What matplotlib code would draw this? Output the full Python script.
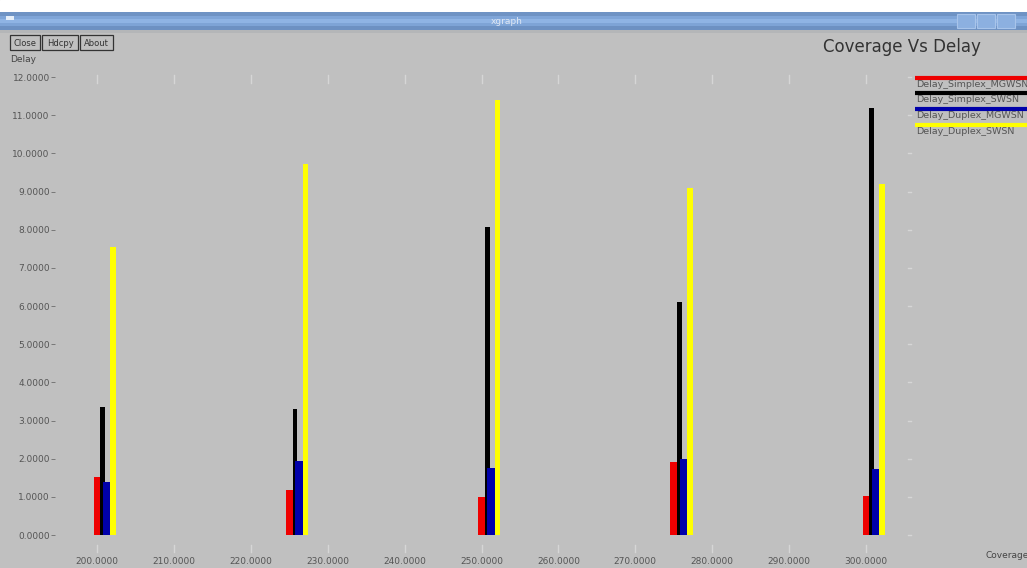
import matplotlib.pyplot as plt
from matplotlib.patches import Rectangle
import numpy as np

# data
coverage = [200, 225, 250, 275, 300]
series = ['Delay_Simplex_MGWSN', 'Delay_Simplex_SWSN', 'Delay_Duplex_MGWSN', 'Delay_Duplex_SWSN']
simplex_mgws = [1.52, 1.18, 1.00, 1.91, 1.02]
simplex_swsn = [3.35, 3.30, 8.06, 6.10, 11.20]
duplex_mgws = [1.39, 1.94, 1.75, 1.99, 1.73]
duplex_swsn = [7.54, 9.71, 11.41, 9.08, 9.19]

values = [simplex_mgws, simplex_swsn, duplex_mgws, duplex_swsn]
colors = ['#ee0000', '#000000', '#0000aa', '#ffff00']
offsets = [0.0, 0.75, 1.25, 2.1]
widths = [0.85, 0.6, 1.0, 0.7]

W, H = 1027, 568
bg = '#c0c0c0'
fig = plt.figure(figsize=(W / 100, H / 100), dpi=100, facecolor=bg)

# plot area in pixels
left, right, top, bottom = 88, 913, 77, 550
ax = fig.add_axes([left / W, 1 - bottom / H, (right - left) / W, (bottom - top) / H])
ax.set_facecolor(bg)
px_per_x = 7.69
ax.set_xlim(200 - 9 / px_per_x, 200 + (right - 97) / px_per_x)
px_per_y = 38.17
ax.set_ylim(-(bottom - 535) / px_per_y, 12 + (top - 77) / px_per_y)

for vals, c, off, w in zip(values, colors, offsets, widths):
    ax.bar(np.array(coverage) + off, vals, width=w, color=c, align='center')

for s in ax.spines.values():
    s.set_visible(False)
ax.spines['left'].set_position(('outward', 24))

yt = np.arange(0, 13)
ax.set_yticks(yt)
ax.set_yticklabels(['%.4f' % v for v in yt], fontsize=6.5, color='#555555')
xt = np.arange(200, 301, 10)
ax.set_xticks(xt)
ax.set_xticklabels(['%.4f' % v for v in xt], fontsize=6.5, color='#555555')
ax.tick_params(axis='y', length=3, width=0.7, color='#777777', pad=0.5)
ax.tick_params(axis='x', length=0, pad=5)

# faint xgraph grid marks
for x in xt:
    ax.plot([x, x], [11.85, 12.05], color='#d6d6d6', lw=1.0, clip_on=False)
    ax.plot([x, x], [-0.45, -0.25], color='#d6d6d6', lw=1.0, clip_on=False)
xr = 200 + (right - 97) / px_per_x - 0.3
for y in yt:
    ax.plot([xr - 0.4, xr], [y, y], color='#d6d6d6', lw=1.0, clip_on=False)

# overlay for window decorations, in pixel coords
ov = fig.add_axes([0, 0, 1, 1], facecolor='none')
ov.set_xlim(0, W)
ov.set_ylim(H, 0)
ov.axis('off')

ov.add_patch(Rectangle((0, 0), W, 12, color='white'))
bar_cols = ['#6f93c4', '#7fa5d8', '#8fb4e4', '#7ea4d6', '#6d91c2']
for i, c in enumerate(bar_cols):
    ov.add_patch(Rectangle((0, 12 + i * 3.6), W, 3.7, color=c, lw=0))
ov.add_patch(Rectangle((0, 30), W, 3, color='#b4b6b8', lw=0))
ov.text(507, 21, 'xgraph', ha='center', va='center', fontsize=6.5, color='#dfe7f4')
ov.add_patch(Rectangle((6, 16), 8, 4, color='#e6eef8', lw=0))
for bx in [957, 977, 997]:
    ov.add_patch(Rectangle((bx, 14), 18, 14, facecolor='#8cb0e0', edgecolor='#a8c4ea', lw=0.8))

for x0, w, lab in [(10, 30, 'Close'), (42, 36, 'Hdcpy'), (80, 33, 'About')]:
    ov.add_patch(Rectangle((x0, 35), w, 15, facecolor='none', edgecolor='#333333', lw=0.9))
    ov.text(x0 + w / 2, 43, lab, ha='center', va='center', fontsize=6, color='#333333')

ov.text(10, 59, 'Delay', ha='left', va='center', fontsize=6.5, color='#444444')
ov.text(823, 47, 'Coverage Vs Delay', ha='left', va='center', fontsize=12, color='#333333')
ov.text(985, 555, 'Coverage', ha='left', va='center', fontsize=6.5, color='#444444')

# legend
line_y = [78, 93, 109, 125]
for ly, c, lab in zip(line_y, colors, series):
    ov.plot([915, W], [ly, ly], color=c, lw=3, solid_capstyle='butt')
    ov.text(916, ly + 6.5, lab, ha='left', va='center', fontsize=6.8, color='#555555')

fig.savefig('out.png', dpi=100, facecolor=bg)
